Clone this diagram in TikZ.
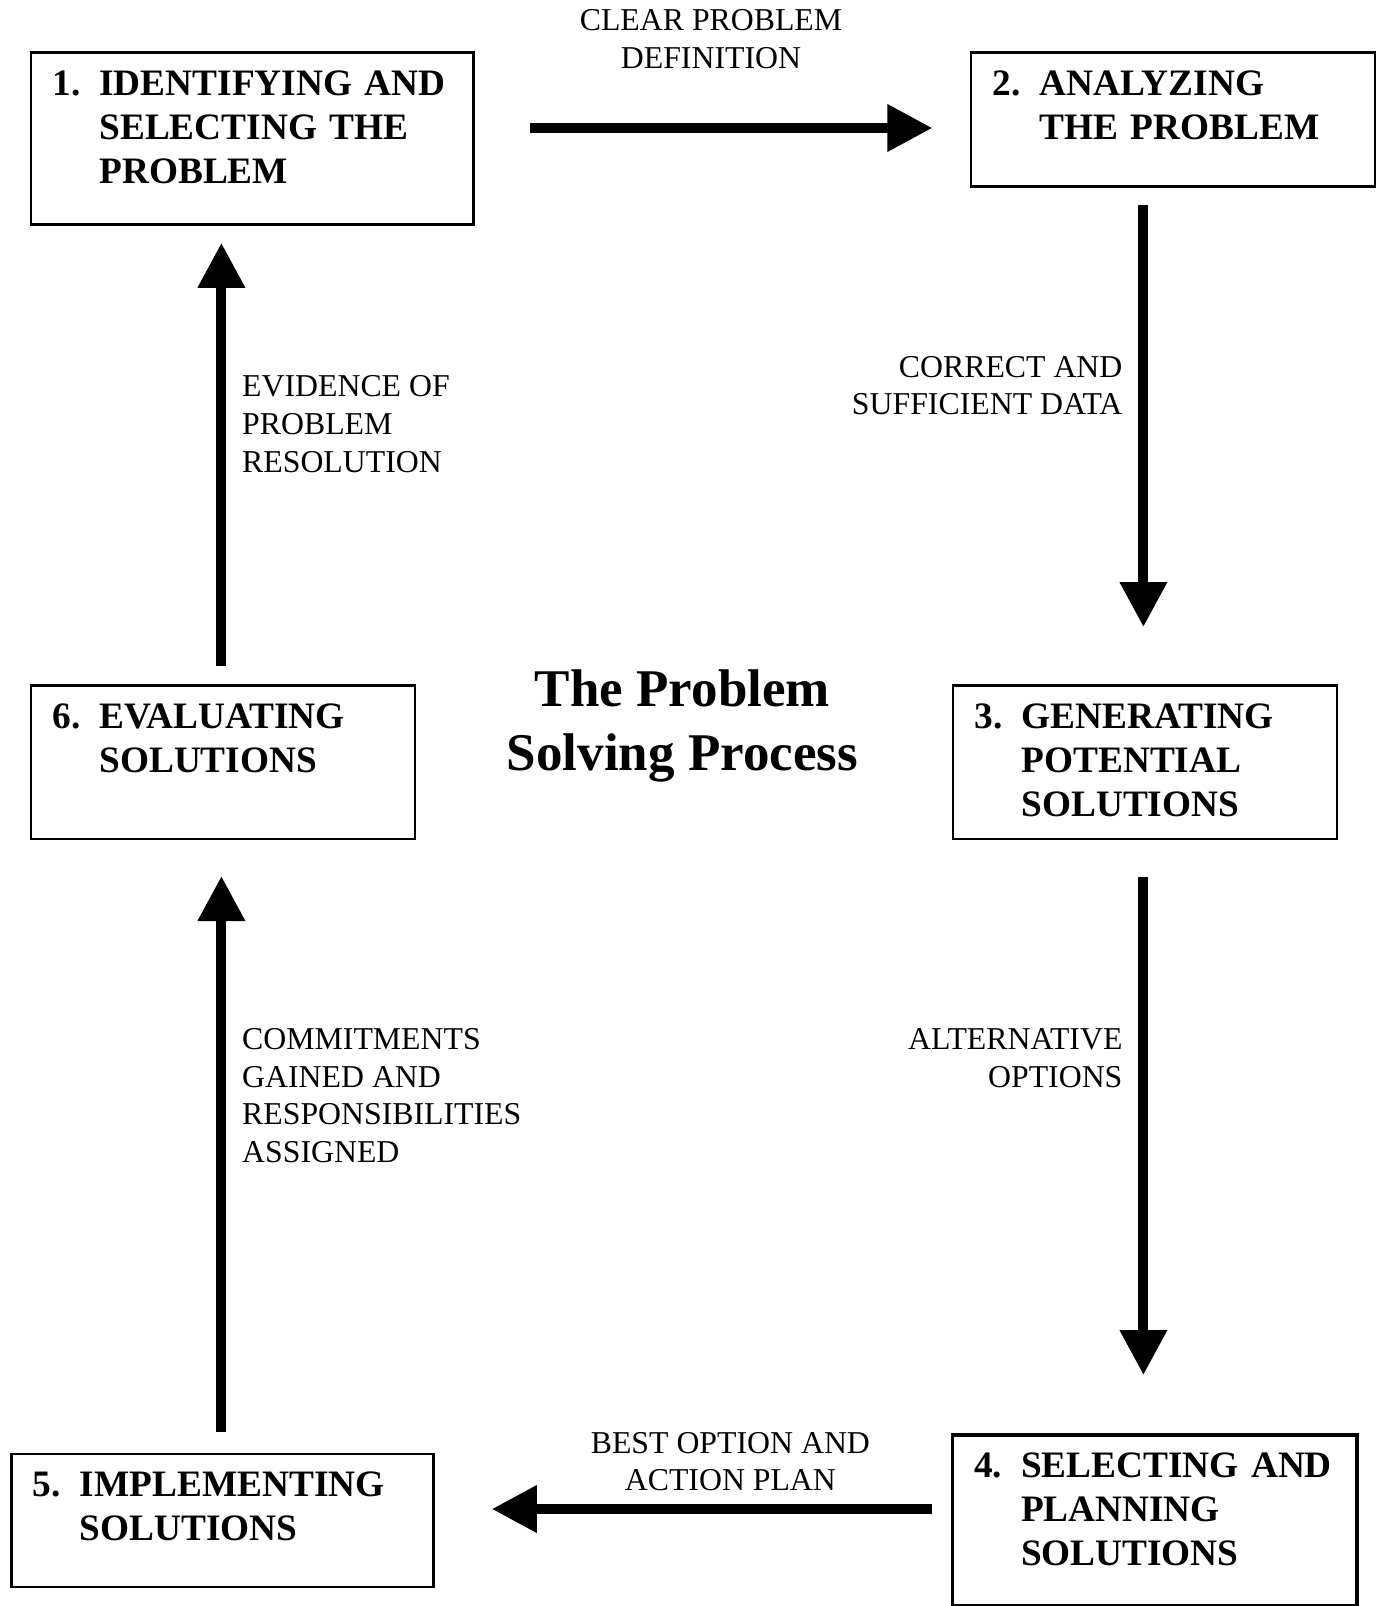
\documentclass[tikz,border=0pt]{standalone}
\usepackage{fontspec}
\setmainfont{Liberation Serif}
\usetikzlibrary{arrows.meta}

% number column + hanging lines inside a stage box
\newcommand{\stagelines}[2]{\begin{tabular}[t]{@{}p{23.5pt}@{}l@{}}#1&#2\end{tabular}}

\tikzset{
  stage/.style={draw, line width=1.2pt, anchor=north west, inner xsep=10.75pt,
    inner ysep=0pt, text height=21.5pt, font=\fontsize{18.65}{22}\selectfont\bfseries},
  flow/.style={line width=5pt, -{Triangle[length=22.5pt,width=22.5pt]}},
  note/.style={font=\fontsize{15.9}{18.8}\selectfont, inner sep=0pt},
}

\begin{document}
\begin{tikzpicture}[x=1pt, y=-1pt]
  \useasboundingbox (0,0) rectangle (690,803);

  % the six stages
  \node[stage, text width=199.8pt, text depth=64.55pt] (b1) at (14.85,25.6)
    {\stagelines{1.}{IDENTIFYING AND\\&SELECTING THE\\&PROBLEM}};
  \node[stage, text width=180.5pt, text depth=45.6pt] (b2) at (485,25.6)
    {\stagelines{2.}{ANALYZING\\&THE PROBLEM}};
  \node[stage, text width=170.6pt, text depth=55.3pt] (b3) at (475.9,342.2)
    {\stagelines{3.}{GENERATING\\&POTENTIAL\\&SOLUTIONS}};
  \node[stage, line width=1.8pt, text width=180.85pt, text depth=64.2pt] (b4) at (475.35,716.5)
    {\stagelines{4.}{SELECTING AND\\&PLANNING\\&SOLUTIONS}};
  \node[stage, text width=189.55pt, text depth=45.15pt] (b5) at (5.1,726.35)
    {\stagelines{5.}{IMPLEMENTING\\&SOLUTIONS}};
  \node[stage, text width=170.65pt, text depth=55.3pt] (b6) at (14.85,342.2)
    {\stagelines{6.}{EVALUATING\\&SOLUTIONS}};

  % base of a multi-line node = its last line
  \node[font=\fontsize{26.5}{32.3}\selectfont\bfseries, align=center, anchor=base] (title)
    at (341.2,385.3) {The Problem\\Solving Process};

  % arrow ends
  \coordinate (a12s) at (264.9,64);   \coordinate (a12e) at (466.2,64);
  \coordinate (a23s) at (571.7,102.5); \coordinate (a23e) at (571.7,313.5);
  \coordinate (a34s) at (571.7,438.5); \coordinate (a34e) at (571.7,687.5);
  \coordinate (a45s) at (466.2,754.5); \coordinate (a45e) at (245.9,754.5);
  \coordinate (a56s) at (110.7,716.2); \coordinate (a56e) at (110.7,438);
  \coordinate (a61s) at (110.7,333);   \coordinate (a61e) at (110.7,121.4);

  \draw[flow] (a12s) -- (a12e);
  \draw[flow] (a23s) -- (a23e);
  \draw[flow] (a34s) -- (a34e);
  \draw[flow] (a45s) -- (a45e);
  \draw[flow] (a56s) -- (a56e);
  \draw[flow] (a61s) -- (a61e);

  % what passes between stages
  \node[note, align=center, anchor=base] (n12) at (355.5,34.3) {CLEAR PROBLEM\\DEFINITION};
  \node[note, align=right, anchor=base east] (n23) at (561.4,207.4) {CORRECT AND\\SUFFICIENT DATA};
  \node[note, align=right, anchor=base east] (n34) at (561.4,543.5) {ALTERNATIVE\\OPTIONS};
  \node[note, align=center, anchor=base] (n45) at (365.2,745.3) {BEST OPTION AND\\ACTION PLAN};
  \node[note, align=left, anchor=base west] (n56) at (120.9,581.1)
    {COMMITMENTS\\GAINED AND\\RESPONSIBILITIES\\ASSIGNED};
  \node[note, align=left, anchor=base west] (n61) at (120.9,236)
    {EVIDENCE OF\\PROBLEM\\RESOLUTION};
\end{tikzpicture}
\end{document}
